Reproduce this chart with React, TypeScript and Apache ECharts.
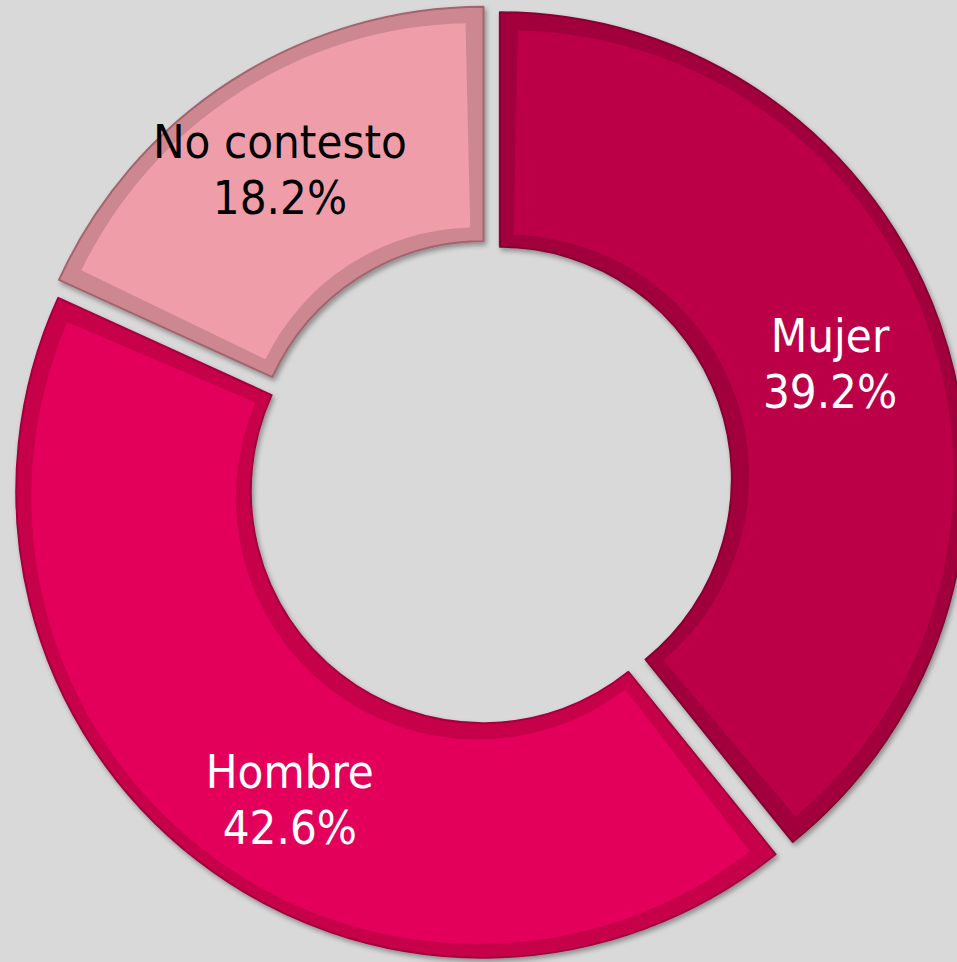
import React, { useEffect, useRef } from 'react';
import * as echarts from 'echarts';

// ---- data ----
const categories = ['Mujer', 'Hombre', 'No contesto'];
const values = [39.2, 42.6, 18.2];

// ---- styles ----
const fillColors = ['#BC0047', '#E3005A', '#EF9EA9'];
const bandColors = ['#A2003D', '#C6004A', '#CC8791'];
const outlineColors = ['#870031', '#A3003C', '#A0656E'];
const labelColors = ['#FFFFFF', '#FFFFFF', '#000000'];
const labelShift = [
  [-2, 2],
  [23, 30],
  [-13, -8],
];

const CENTER = [489.5, 482.5];
const R_OUT = 467.5;
const R_IN = 231;
const EXPLODE = 11;
const BAND = 16;
const FONT = "'DejaVu Sans Condensed', 'DejaVu Sans', sans-serif";

export default function App() {
  const ref = useRef<HTMLDivElement>(null);

  useEffect(() => {
    document.body.style.margin = '0';
    const chart = echarts.init(ref.current as HTMLDivElement, null, { renderer: 'svg' });
    const total = values.reduce((a, b) => a + b, 0);
    const rhoMid = (R_IN + R_OUT) / 2;

    const outer = {
      type: 'pie',
      center: CENTER,
      radius: [R_IN + 1, R_OUT - 1],
      startAngle: 90,
      clockwise: true,
      selectedMode: 'multiple',
      selectedOffset: EXPLODE,
      silent: true,
      avoidLabelOverlap: false,
      emphasis: { disabled: true },
      label: { show: false },
      labelLine: { show: false },
      z: 2,
      data: categories.map((name, i) => ({
        name,
        value: values[i],
        selected: true,
        itemStyle: {
          color: bandColors[i],
          borderColor: outlineColors[i],
          borderWidth: 2,
          shadowColor: 'rgba(0,0,0,0.35)',
          shadowBlur: 5,
          shadowOffsetX: 2,
          shadowOffsetY: 3,
        },
      })),
    };

    const inner = categories.map((_, i) => {
      const alpha = (values[i] / total) * Math.PI; // half angle
      const k = 0.5;
      const e = (k * BAND) / Math.sin(alpha);
      const beta = ((1 - k) * BAND) / rhoMid;
      const avgCos = (1 + Math.cos(alpha - beta)) / 2;
      const rOut = R_OUT - BAND - e * avgCos;
      const rIn = R_IN + BAND - e * avgCos;
      return {
        type: 'pie',
        center: CENTER,
        radius: [rIn, rOut],
        startAngle: 90,
        clockwise: true,
        padAngle: (2 * beta * 180) / Math.PI,
        selectedMode: 'single',
        selectedOffset: EXPLODE + e,
        silent: true,
        avoidLabelOverlap: false,
        emphasis: { disabled: true },
        label: { show: false },
        labelLine: { show: false },
        z: 3,
        data: categories.map((name, j) => ({
          name,
          value: values[j],
          selected: j === i,
          itemStyle: {
            color: j === i ? fillColors[j] : 'rgba(0,0,0,0)',
            borderWidth: 0,
          },
        })),
      };
    });

    const labels = {
      type: 'pie',
      center: CENTER,
      radius: [R_IN, R_OUT],
      startAngle: 90,
      clockwise: true,
      selectedMode: 'multiple',
      selectedOffset: EXPLODE,
      silent: true,
      avoidLabelOverlap: false,
      emphasis: { disabled: true },
      labelLine: { show: false },
      labelLayout: (params: any) => ({
        dx: labelShift[params.dataIndex][0],
        dy: labelShift[params.dataIndex][1],
      }),
      z: 5,
      data: categories.map((name, i) => ({
        name,
        value: values[i],
        selected: true,
        itemStyle: { color: 'rgba(0,0,0,0)', borderWidth: 0 },
        label: {
          show: true,
          position: 'inside',
          formatter: () => `${name}\n${values[i].toFixed(1)}%`,
          color: labelColors[i],
          fontFamily: FONT,
          fontSize: 47,
          lineHeight: 56,
          align: 'center',
        },
      })),
    };

    chart.setOption({
      animation: false,
      backgroundColor: '#D9D9D9',
      series: [outer, ...inner, labels],
    });

    return () => chart.dispose();
  }, []);

  return <div ref={ref} style={{ width: 957, height: 962 }} />;
}
